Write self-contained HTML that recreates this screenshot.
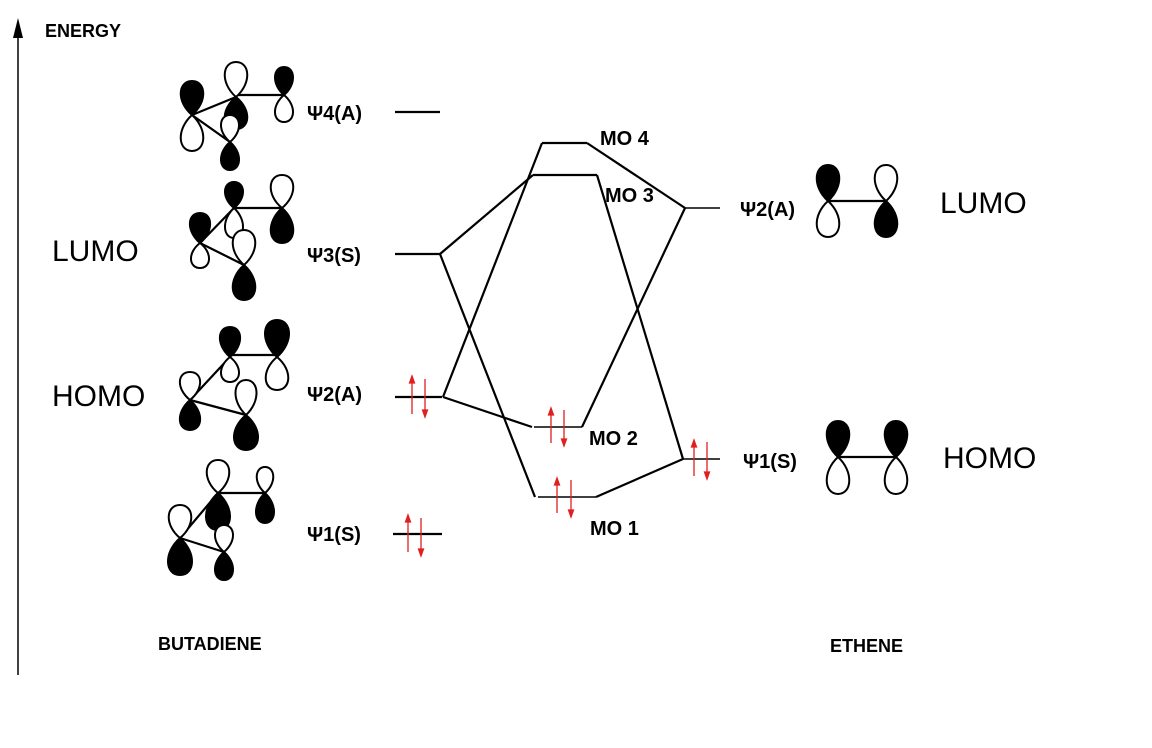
<!DOCTYPE html>
<html><head><meta charset="utf-8"><style>
html,body{margin:0;padding:0;background:#fff;}
svg{display:block;}
text{font-family:"Liberation Sans",sans-serif;}
.b{font-weight:bold;font-size:20px;fill:#000;}
.big{font-size:30px;fill:#000;}
</style></head><body>
<svg width="1152" height="748" viewBox="0 0 1152 748" xmlns="http://www.w3.org/2000/svg">
<rect width="1152" height="748" fill="#fff"/>
<line x1="18" y1="675" x2="18" y2="30" stroke="#000" stroke-width="1.5"/>
<polygon points="18,18 13,38 23,38" fill="#000"/>
<text x="45" y="37" class="b" style="font-size:18px">ENERGY</text>

<g stroke="#000" stroke-width="2.2" fill="none">
<line x1="192" y1="115" x2="236" y2="97"/><line x1="236" y1="95" x2="284" y2="95"/><line x1="192" y1="115" x2="230" y2="142"/>
<line x1="200" y1="243" x2="234" y2="208"/><line x1="234" y1="208" x2="282" y2="208"/><line x1="200" y1="243" x2="244" y2="265"/>
<line x1="190" y1="400" x2="230" y2="357"/><line x1="230" y1="355" x2="277" y2="355"/><line x1="190" y1="400" x2="246" y2="415"/>
<line x1="180" y1="538" x2="218" y2="493"/><line x1="218" y1="493" x2="265" y2="493"/><line x1="180" y1="538" x2="224" y2="552"/>
<line x1="828" y1="201" x2="886" y2="201"/>
<line x1="838" y1="457" x2="896" y2="457"/>
</g>
<g stroke="#000" stroke-width="2">
<!-- Psi4 -->
<path fill="#000" d="M192 115 C176 101.4 178 81 192 81 C206 81 208 101.4 192 115Z"/>
<path fill="#fff" d="M192 115 C176 129.4 178 151 192 151 C206 151 208 129.4 192 115Z"/>
<path fill="#000" d="M236 97 C220 109.8 222 129 236 129 C250 129 252 109.8 236 97Z"/>
<path fill="#fff" d="M236 97 C220 83 222 62 236 62 C250 62 252 83 236 97Z"/>
<path fill="#000" d="M284 95 C271 83.8 273 67 284 67 C295 67 297 83.8 284 95Z"/>
<path fill="#fff" d="M284 95 C271 105.8 273 122 284 122 C295 122 297 105.8 284 95Z"/>
<path fill="#000" d="M230 142 C217 153.2 219 170 230 170 C241 170 243 153.2 230 142Z"/>
<path fill="#fff" d="M230 142 C217 131.2 219 115 230 115 C241 115 243 131.2 230 142Z"/>
<!-- Psi3 -->
<path fill="#000" d="M200 243 C186 231 187 213 200 213 C213 213 214 231 200 243Z"/>
<path fill="#fff" d="M200 243 C187 253 189 268 200 268 C211 268 213 253 200 243Z"/>
<path fill="#000" d="M234 208 C221 197.6 223 182 234 182 C245 182 247 197.6 234 208Z"/>
<path fill="#fff" d="M234 208 C221 220 223 238 234 238 C245 238 247 220 234 208Z"/>
<path fill="#000" d="M282 208 C266 222 268 243 282 243 C296 243 298 222 282 208Z"/>
<path fill="#fff" d="M282 208 C266 194.8 268 175 282 175 C296 175 298 194.8 282 208Z"/>
<path fill="#000" d="M244 265 C228 279 230 300 244 300 C258 300 260 279 244 265Z"/>
<path fill="#fff" d="M244 265 C228 251 230 230 244 230 C258 230 260 251 244 265Z"/>
<!-- Psi2 -->
<path fill="#000" d="M190 400 C176 412 177 430 190 430 C203 430 204 412 190 400Z"/>
<path fill="#fff" d="M190 400 C176 388.8 177 372 190 372 C203 372 204 388.8 190 400Z"/>
<path fill="#000" d="M230 357 C216 345 217 327 230 327 C243 327 244 345 230 357Z"/>
<path fill="#fff" d="M230 357 C217 367 219 382 230 382 C241 382 243 367 230 357Z"/>
<path fill="#000" d="M277 357 C260 342.2 262 320 277 320 C292 320 294 342.2 277 357Z"/>
<path fill="#fff" d="M277 357 C261 370.2 263 390 277 390 C291 390 293 370.2 277 357Z"/>
<path fill="#000" d="M246 415 C229 429 231 450 246 450 C261 450 263 429 246 415Z"/>
<path fill="#fff" d="M246 415 C231 401 233 380 246 380 C259 380 261 401 246 415Z"/>
<!-- Psi1 -->
<path fill="#000" d="M180 538 C163 552.8 165 575 180 575 C195 575 197 552.8 180 538Z"/>
<path fill="#fff" d="M180 538 C164 524.8 166 505 180 505 C194 505 196 524.8 180 538Z"/>
<path fill="#000" d="M218 493 C201 507.8 203 530 218 530 C233 530 235 507.8 218 493Z"/>
<path fill="#fff" d="M218 493 C202 479.8 204 460 218 460 C232 460 234 479.8 218 493Z"/>
<path fill="#000" d="M265 493 C252 505 254 523 265 523 C276 523 278 505 265 493Z"/>
<path fill="#fff" d="M265 493 C253 482.6 255 467 265 467 C275 467 277 482.6 265 493Z"/>
<path fill="#000" d="M224 552 C211 563.2 213 580 224 580 C235 580 237 563.2 224 552Z"/>
<path fill="#fff" d="M224 552 C211 541.2 213 525 224 525 C235 525 237 541.2 224 552Z"/>
<!-- Ethene psi2 -->
<path fill="#000" d="M828 201 C812 186.6 814 165 828 165 C842 165 844 186.6 828 201Z"/>
<path fill="#fff" d="M828 201 C812 215.4 814 237 828 237 C842 237 844 215.4 828 201Z"/>
<path fill="#fff" d="M886 201 C870 186.6 872 165 886 165 C900 165 902 186.6 886 201Z"/>
<path fill="#000" d="M886 201 C870 215.4 872 237 886 237 C900 237 902 215.4 886 201Z"/>
<!-- Ethene psi1 -->
<path fill="#000" d="M838 457 C822 442.6 824 421 838 421 C852 421 854 442.6 838 457Z"/>
<path fill="#fff" d="M838 457 C822 471.8 824 494 838 494 C852 494 854 471.8 838 457Z"/>
<path fill="#000" d="M896 457 C880 442.6 882 421 896 421 C910 421 912 442.6 896 457Z"/>
<path fill="#fff" d="M896 457 C880 471.8 882 494 896 494 C910 494 912 471.8 896 457Z"/>
</g>

<g stroke="#000" stroke-width="2.2" fill="none">
<line x1="395" y1="112" x2="440" y2="112"/>
<line x1="395" y1="254" x2="440" y2="254"/>
<line x1="395" y1="397" x2="442" y2="397"/>
<line x1="393" y1="534" x2="442" y2="534"/>
<line x1="685" y1="208" x2="720" y2="208" stroke-width="1.6"/>
<line x1="683" y1="459" x2="720" y2="459" stroke-width="1.6"/>
<line x1="542" y1="143" x2="587" y2="143"/>
<line x1="533" y1="175" x2="597" y2="175"/>
<line x1="534" y1="427" x2="582" y2="427" stroke-width="1.6"/>
<line x1="538" y1="497" x2="596" y2="497" stroke-width="1.6"/>
<polyline points="587,143 685,208"/>
<polyline points="440,254 533,175"/>
<polyline points="597,175 683,459"/>
<polyline points="542,143 443,397"/>
<polyline points="440,254 535,497"/>
<polyline points="443,397 532,427"/>
<polyline points="582,427 685,208"/>
<polyline points="596,497 683,459"/>
</g>

<g stroke="#e02020" stroke-width="1.3" fill="#e02020">
<line x1="412" y1="380" x2="412" y2="414"/><polygon points="412,376 409.5,383 414.5,383"/>
<line x1="425" y1="379" x2="425" y2="412"/><polygon points="425,417 422.5,410 427.5,410"/>
<line x1="408" y1="519" x2="408" y2="552"/><polygon points="408,515 405.5,522 410.5,522"/>
<line x1="421" y1="518" x2="421" y2="551"/><polygon points="421,556 418.5,549 423.5,549"/>
<line x1="551" y1="412" x2="551" y2="443"/><polygon points="551,408 548.5,415 553.5,415"/>
<line x1="564" y1="410" x2="564" y2="441"/><polygon points="564,446 561.5,439 566.5,439"/>
<line x1="557" y1="482" x2="557" y2="513"/><polygon points="557,478 554.5,485 559.5,485"/>
<line x1="571" y1="480" x2="571" y2="512"/><polygon points="571,517 568.5,510 573.5,510"/>
<line x1="694" y1="444" x2="694" y2="476"/><polygon points="694,440 691.5,447 696.5,447"/>
<line x1="707" y1="442" x2="707" y2="474"/><polygon points="707,479 704.5,472 709.5,472"/>
</g>

<text x="307" y="120" class="b">Ψ4(A)</text>
<text x="307" y="262" class="b">Ψ3(S)</text>
<text x="307" y="401" class="b">Ψ2(A)</text>
<text x="307" y="541" class="b">Ψ1(S)</text>
<text x="740" y="216" class="b">Ψ2(A)</text>
<text x="743" y="468" class="b">Ψ1(S)</text>
<text x="600" y="145" class="b">MO 4</text>
<text x="605" y="202" class="b">MO 3</text>
<text x="589" y="445" class="b">MO 2</text>
<text x="590" y="535" class="b">MO 1</text>
<text x="52" y="261" class="big">LUMO</text>
<text x="52" y="406" class="big">HOMO</text>
<text x="940" y="213" class="big">LUMO</text>
<text x="943" y="468" class="big">HOMO</text>
<text x="158" y="650" class="b" style="font-size:18px">BUTADIENE</text>
<text x="830" y="652" class="b" style="font-size:18px">ETHENE</text>
</svg>
</body></html>
